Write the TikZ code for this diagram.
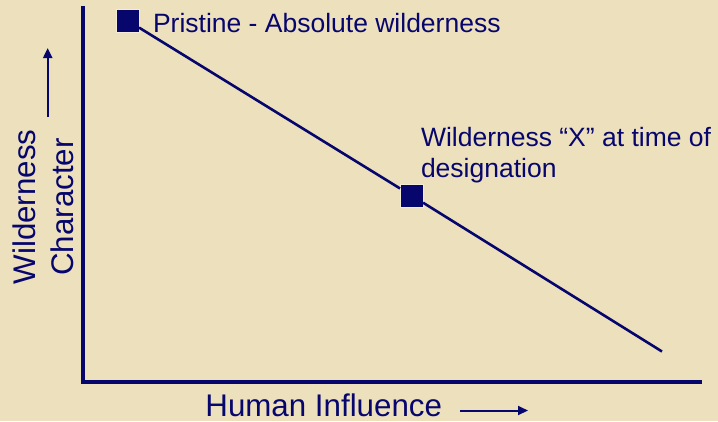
\documentclass[tikz,border=0pt]{standalone}
\usepackage{fontspec}
\setmainfont{Liberation Sans}
\usetikzlibrary{arrows.meta}
\definecolor{ink}{RGB}{6,6,108}
\definecolor{paper}{RGB}{237,224,189}
\begin{document}
\begin{tikzpicture}[x=1pt,y=-1pt,
  marker/.style={fill=ink,draw=paper!60!white,line width=0.6pt,minimum size=23pt,inner sep=0pt,outer sep=0pt},
  axisline/.style={draw=ink,line width=3.2pt},
  plotline/.style={draw=ink,line width=2.6pt},
  dirarrow/.style={draw=ink,line width=2pt,-{Triangle[length=10pt,width=9pt]}},
  lab/.style={text=ink,inner sep=0pt,outer sep=0pt}]
\fill[paper] (0,0) rectangle (718,421);
\useasboundingbox (0,0) rectangle (718,421);
% axes
\coordinate (ytop) at (83,6);
\coordinate (origin) at (83,382);
\coordinate (xend) at (702,382);
\draw[axisline] (ytop) -- (origin) -- (xend);
% markers
\node[marker] (sq1) at (127.5,20.5) {};
\node[marker] (sq2) at (411.5,195.5) {};
\coordinate (lineend) at (662,351.5);
\draw[plotline] (sq1) -- (sq2) -- (lineend);
% labels
\node[lab,anchor=base west,font=\fontsize{26.5}{31}\selectfont] (pristine) at (153,32) {Pristine - Absolute wilderness};
\node[lab,anchor=north west,align=left,font=\fontsize{26.5}{31}\selectfont] (xlab) at (421,127) {Wilderness “X” at time of\\designation};
\node[lab,anchor=base west,font=\fontsize{31.3}{36}\selectfont] (hx) at (205.4,416) {Human Influence};
\node[lab,rotate=90,align=center,font=\fontsize{31.3}{38}\selectfont] (wy) at (43.5,207) {Wilderness\\Character};
% direction arrows
\coordinate (hxa) at (460,410.5);
\coordinate (hxb) at (528,410.5);
\draw[dirarrow] (hxa) -- (hxb);
\coordinate (wya) at (47.7,117);
\coordinate (wyb) at (47.7,48);
\draw[dirarrow] (wya) -- (wyb);
\end{tikzpicture}
\end{document}
